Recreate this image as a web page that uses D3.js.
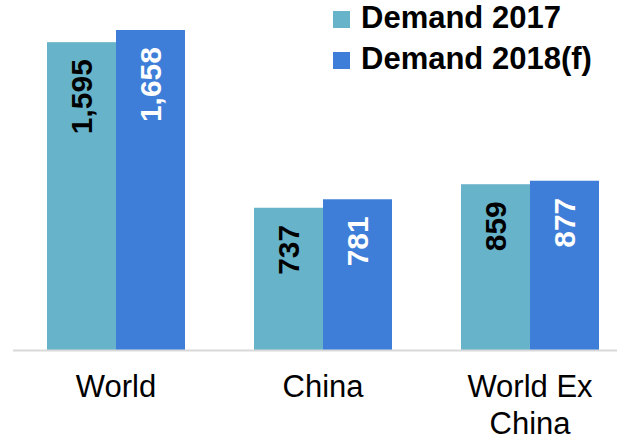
<!DOCTYPE html>
<html>
<head>
<meta charset="utf-8">
<script src="https://cdn.jsdelivr.net/npm/d3@7"></script>
<style>
  html, body { margin: 0; padding: 0; background: #fff; }
  svg { display: block; font-family: "Liberation Sans", Arial, sans-serif; }
</style>
</head>
<body>
<svg id="chart" width="617" height="438"></svg>
<script>
const categories = ["World", "China", "World Ex China"];
const tickLabels = [["World"], ["China"], ["World Ex", "China"]];
const seriesNames = ["Demand 2017", "Demand 2018(f)"];
const demand2017 = [1595, 737, 859];
const demand2018 = [1658, 781, 877];
const valueLabels2017 = ["1,595", "737", "859"];
const valueLabels2018 = ["1,658", "781", "877"];
const colors = ["#67b3c9", "#3e7ed8"];
const labelColors = ["#000000", "#ffffff"];

const svg = d3.select("#chart");
const baseline = 350;

const x = d3.scaleBand().domain(categories).range([12.5, 633.5]).paddingInner(1/3).paddingOuter(1/6);
const xs = d3.scaleBand().domain(seriesNames).range([0, x.bandwidth()]).padding(0);
const y = d3.scaleLinear().domain([0, 1800]).range([baseline, baseline - 1800 * 0.193]);

const rows = categories.map((c, i) => ({
  cat: c,
  vals: [
    { s: seriesNames[0], v: demand2017[i], lbl: valueLabels2017[i], k: 0 },
    { s: seriesNames[1], v: demand2018[i], lbl: valueLabels2018[i], k: 1 }
  ]
}));

const g = svg.selectAll("g.cat").data(rows).join("g")
  .attr("class", "cat")
  .attr("transform", d => `translate(${x(d.cat)},0)`);

g.selectAll("rect").data(d => d.vals).join("rect")
  .attr("x", d => xs(d.s))
  .attr("y", d => y(d.v))
  .attr("width", xs.bandwidth())
  .attr("height", d => y(0) - y(d.v))
  .attr("fill", d => colors[d.k]);

g.selectAll("text.val").data(d => d.vals).join("text")
  .attr("class", "val")
  .attr("transform", d => `translate(${xs(d.s) + xs.bandwidth() / 2},${y(d.v) + 17}) rotate(-90)`)
  .attr("text-anchor", "end")
  .attr("dy", "0.36em")
  .attr("font-size", 30)
  .attr("font-weight", "bold")
  .attr("fill", d => labelColors[d.k])
  .text(d => d.lbl);

// axis
const axis = svg.append("g")
  .attr("transform", `translate(0,${baseline})`)
  .call(d3.axisBottom(x).tickSize(0).tickFormat(""));
axis.select(".domain").remove();
axis.append("line")
  .attr("x1", 13).attr("x2", 617)
  .attr("y1", 0.5).attr("y2", 0.5)
  .attr("stroke", "#d9d9d9").attr("stroke-width", 2);

axis.selectAll(".tick").each(function(d, i) {
  const t = d3.select(this).select("text")
    .attr("y", 0).attr("dy", null)
    .attr("font-size", 31)
    .attr("fill", "#000")
    .attr("font-family", "'Liberation Sans', Arial, sans-serif");
  t.selectAll("tspan").data(tickLabels[i]).join("tspan")
    .attr("x", 0)
    .attr("y", (l, j) => 47 + j * 37)
    .text(l => l);
});

// legend
const legend = svg.append("g");
const lg = legend.selectAll("g").data(seriesNames).join("g")
  .attr("transform", (d, i) => `translate(333,${11 + i * 41})`);
lg.append("rect").attr("width", 17).attr("height", 17).attr("fill", (d, i) => colors[i]);
lg.append("text")
  .attr("x", 28).attr("y", 16.5)
  .attr("font-size", 31).attr("font-weight", "bold").attr("fill", "#000")
  .text(d => d);
</script>
</body>
</html>
